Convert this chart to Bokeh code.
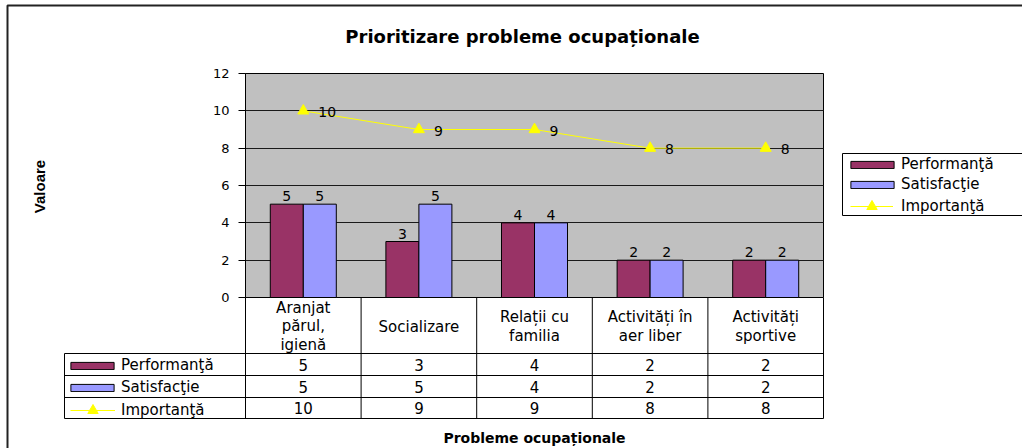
import math
from bokeh.plotting import figure
from bokeh.models import Range1d, LinearAxis, FixedTicker, Grid, BoxAnnotation, Legend, LegendItem
from bokeh.core.properties import value
from bokeh.embed import file_html
from bokeh.resources import INLINE

# ---------------- data ----------------
categories = ["Aranjat\npărul,\nigienă", "Socializare", "Relații cu\nfamilia",
              "Activități în\naer liber", "Activități\nsportive"]
series_names = ["Performanţă", "Satisfacţie", "Importanţă"]
performanta = [5, 3, 4, 2, 2]
satisfactie = [5, 5, 4, 2, 2]
importanta = [10, 9, 9, 8, 8]
y_ticks = [0, 2, 4, 6, 8, 10, 12]
title_text = "Prioritizare probleme ocupaționale"
x_title = "Probleme ocupaționale"
y_title = "Valoare"

# ---------------- layout (canvas pixels) ----------------
W, H = 1022, 448
PL, PR, PT, PB = 245, 823, 73, 297          # plot area
ROWS = [353, 375, 397, 418]                 # table row lines below header
KEY_L = 64
n = len(categories)
ymax = y_ticks[-1]
ppx = (PR - PL) / n
ppy = (PB - PT) / ymax

FONT = "DejaVu Sans"
MAROON, PERI, YELLOW = "#993366", "#9999FF", "#FFFF00"

p = figure(width=W, height=H,
           x_range=Range1d(-PL / ppx, n + (W - PR) / ppx),
           y_range=Range1d(-(H - PB) / ppy, ymax + PT / ppy),
           x_axis_type=None, y_axis_type=None,
           toolbar_location=None, output_backend="svg",
           min_border=0, outline_line_color=None,
           background_fill_color="white", border_fill_color="white")
p.extra_x_ranges = {"px": Range1d(0, W)}
p.extra_y_ranges = {"px": Range1d(H, 0)}

# outer chart border
p.quad(left=[7], right=[W + 10], top=[5], bottom=[H + 10], fill_color=None,
       line_color="#222222", line_width=2, x_range_name="px", y_range_name="px")

# plot area
p.add_layout(BoxAnnotation(left=0, right=n, bottom=0, top=ymax, fill_color="#C0C0C0",
                           fill_alpha=1, line_color="black", line_alpha=1, line_width=1,
                           level="image"))
p.add_layout(Grid(dimension=1, ticker=FixedTicker(ticks=y_ticks[1:-1]), cross_bounds=(0, n),
                  grid_line_color="#1a1a1a", grid_line_width=1))

yaxis = LinearAxis(fixed_location=0, bounds=(0, ymax), ticker=FixedTicker(ticks=y_ticks),
                   major_tick_out=7, major_tick_in=0, minor_tick_out=0, minor_tick_in=0,
                   major_label_standoff=9, major_label_text_font=FONT,
                   major_label_text_font_size="13px", major_label_text_color="black",
                   axis_line_color="black", major_tick_line_color="black")
p.add_layout(yaxis, "left")

# bars
xc = [i + 0.5 for i in range(n)]
BW = 0.2855
x_perf = [c - BW / 2 for c in xc]
x_sat = [c + BW / 2 for c in xc]
rp = p.vbar(x=x_perf, top=performanta, bottom=0, width=BW, fill_color=MAROON,
            line_color="black", line_width=1)
rs = p.vbar(x=x_sat, top=satisfactie, bottom=0, width=BW, fill_color=PERI,
            line_color="black", line_width=1)
rl = p.line(xc, importanta, line_color=YELLOW, line_width=1)
rm = p.scatter(xc, importanta, marker="triangle", size=11, fill_color=YELLOW,
               line_color=YELLOW)

lbl = dict(text_font=value(FONT), text_font_size="14px", text_color="black")
p.text(x=x_perf, y=performanta, text=[str(v) for v in performanta], text_align="center",
       text_baseline="alphabetic", y_offset=-8, **lbl)
p.text(x=x_sat, y=satisfactie, text=[str(v) for v in satisfactie], text_align="center",
       text_baseline="alphabetic", y_offset=-8, **lbl)
p.text(x=xc, y=importanta, text=[str(v) for v in importanta], text_align="left",
       text_baseline="middle", x_offset=15, y_offset=1, **lbl)

# data table
tbl = dict(line_color="black", line_width=1)
p.segment(x0=list(range(n + 1)), x1=list(range(n + 1)), y0=[PB] * (n + 1),
          y1=[ROWS[-1]] * (n + 1), y_range_name="px", **tbl)
p.segment(x0=[KEY_L], x1=[KEY_L], y0=[ROWS[0]], y1=[ROWS[-1]],
          x_range_name="px", y_range_name="px", **tbl)
p.segment(x0=[KEY_L] * len(ROWS), x1=[PR] * len(ROWS), y0=ROWS, y1=ROWS,
          x_range_name="px", y_range_name="px", **tbl)

cell = dict(text_font=value(FONT), text_font_size="15px", text_color="black",
            text_align="center", text_baseline="middle")
p.text(x=xc, y=[(PB + ROWS[0]) / 2 + 1] * n, text=categories, y_range_name="px",
       text_line_height=1.05, **cell)
for r, vals in enumerate([performanta, satisfactie, importanta]):
    yc = (ROWS[r] + ROWS[r + 1]) / 2
    p.text(x=xc, y=[yc] * n, text=[str(v) for v in vals], y_range_name="px", **cell)

# legends
leg_common = dict(orientation="vertical", padding=0, margin=0, spacing=0,
                  border_line_color=None, background_fill_alpha=0,
                  label_text_font=FONT, label_text_font_size="15px",
                  label_text_color="black")
# table keys
p.add_layout(Legend(items=[LegendItem(label=series_names[0], renderers=[rp]),
                           LegendItem(label=series_names[1], renderers=[rs])],
                    location=(65, H - 398), glyph_width=54, glyph_height=9,
                    label_height=22, label_standoff=2, **leg_common))
p.add_layout(Legend(items=[LegendItem(label=series_names[2], renderers=[rl, rm])],
                    location=(70, H - 423), glyph_width=45, glyph_height=26,
                    label_height=26, label_standoff=6, **leg_common))
# main legend box
p.quad(left=[842], right=[W + 10], top=[153], bottom=[215], fill_color="white",
       line_color="black", line_width=1, x_range_name="px", y_range_name="px")
p.add_layout(Legend(items=[LegendItem(label=series_names[0], renderers=[rp]),
                           LegendItem(label=series_names[1], renderers=[rs])],
                    location=(845, H - 194), glyph_width=54, glyph_height=9,
                    label_height=20, label_standoff=2, **leg_common))
p.add_layout(Legend(items=[LegendItem(label=series_names[2], renderers=[rl, rm])],
                    location=(850, H - 219), glyph_width=43, glyph_height=26,
                    label_height=26, label_standoff=8, **leg_common))

# titles
p.text(x=[522], y=[36], text=[title_text], x_range_name="px", y_range_name="px",
       text_font=value(FONT), text_font_style="bold", text_font_size="18px",
       text_align="center", text_baseline="alphabetic", text_color="black")
p.text(x=[n / 2], y=[437], text=[x_title], y_range_name="px",
       text_font=value(FONT), text_font_style="bold", text_font_size="14px",
       text_align="center", text_baseline="alphabetic", text_color="black")
p.text(x=[39], y=[186], text=[y_title], x_range_name="px", y_range_name="px",
       angle=math.pi / 2, text_font=value("Liberation Sans"),
       text_font_style="bold", text_font_size="15px",
       text_align="center", text_baseline="middle", text_color="black")

open("out.html", "w").write(file_html(p, INLINE))
